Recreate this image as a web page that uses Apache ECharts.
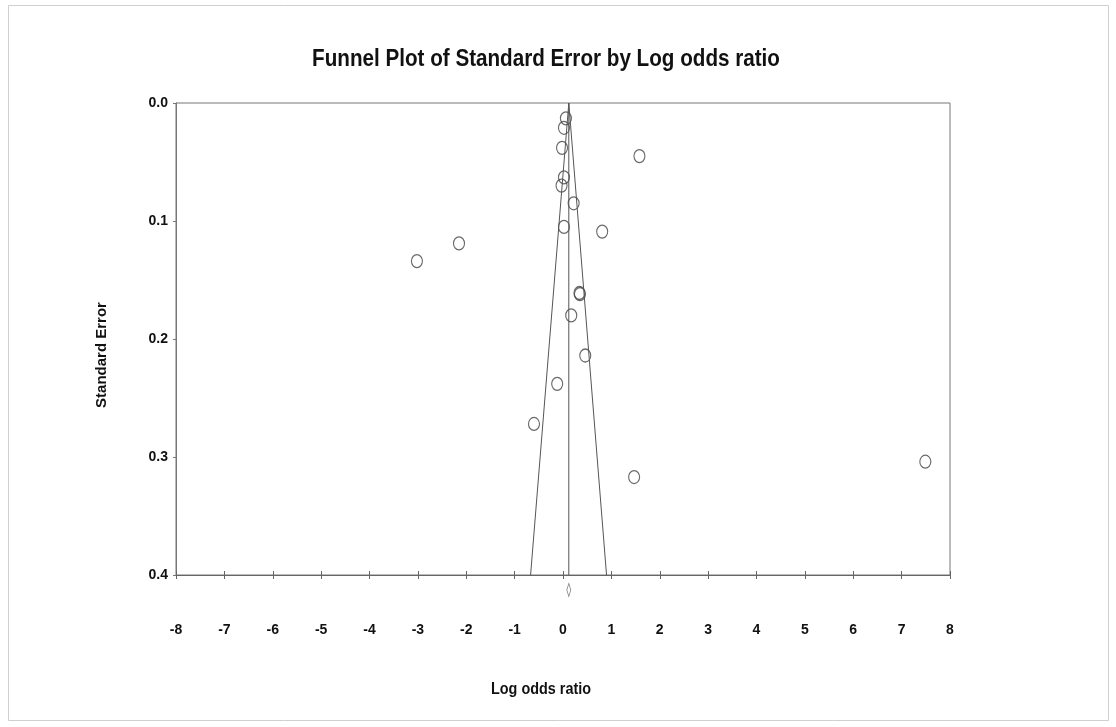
<!DOCTYPE html>
<html>
<head>
<meta charset="utf-8">
<script src="https://cdn.jsdelivr.net/npm/echarts@6/dist/echarts.min.js"></script>
<style>
html,body{margin:0;padding:0;background:#fff;}
#chart{width:1116px;height:727px;}
</style>
</head>
<body>
<div id="chart"></div>
<script>
// ---- data ----
const logOddsRatio = [0.06, 0.02, -0.02, 1.58, 0.02, -0.03, 0.22, 0.02, 0.81, 0.34, 0.35, 0.17, 0.46, -0.12, -0.60, 1.47, -2.15, -3.02, 7.49];
const standardError = [0.013, 0.021, 0.038, 0.045, 0.063, 0.070, 0.085, 0.105, 0.109, 0.161, 0.162, 0.180, 0.214, 0.238, 0.272, 0.317, 0.119, 0.134, 0.304];
const meanEffect = 0.12;
const funnelBottomLeft = -0.67;
const funnelBottomRight = 0.90;
const seMax = 0.4;
const xTicks = [-8, -7, -6, -5, -4, -3, -2, -1, 0, 1, 2, 3, 4, 5, 6, 7, 8];
const yTicks = [0.0, 0.1, 0.2, 0.3, 0.4];

const FONT = "'Liberation Sans', Arial, sans-serif";
const studies = logOddsRatio.map((v, i) => [v, standardError[i]]);
const GRID = {left: 176, top: 103, right: 166, bottom: 152};

const chart = echarts.init(document.getElementById('chart'), null, {renderer: 'canvas'});
chart.setOption({
  animation: false,
  backgroundColor: '#fff',
  graphic: [
    {type: 'rect', shape: {x: 8.5, y: 5.5, width: 1100, height: 715}, style: {fill: 'none', stroke: '#d0d0d0', lineWidth: 1}, silent: true},
    {type: 'text', x: 546, y: 59, scaleX: 0.86, style: {text: 'Funnel Plot of Standard Error by Log odds ratio', font: 'bold 24px ' + FONT, fill: '#111', textAlign: 'center', textVerticalAlign: 'middle'}},
    {type: 'text', x: 541, y: 690, scaleX: 0.9, style: {text: 'Log odds ratio', font: 'bold 16px ' + FONT, fill: '#111', textAlign: 'center', textVerticalAlign: 'middle'}},
    {type: 'text', x: 102, y: 355, rotation: Math.PI / 2, style: {text: 'Standard Error', font: 'bold 15px ' + FONT, fill: '#111', textAlign: 'center', textVerticalAlign: 'middle'}}
  ],
  grid: [
    Object.assign({show: true, borderColor: '#777', borderWidth: 1, backgroundColor: 'transparent'}, GRID),
    Object.assign({show: false}, GRID)
  ],
  xAxis: [{
    type: 'value', gridIndex: 0, min: xTicks[0], max: xTicks[xTicks.length - 1], interval: 1,
    axisLine: {show: true, onZero: false, lineStyle: {color: '#666', width: 1}},
    axisTick: {show: true, length: 4, lineStyle: {color: '#666'}},
    splitLine: {show: false},
    axisLabel: {margin: 48, fontFamily: FONT, fontWeight: 'bold', fontSize: 14, color: '#111'}
  }, {
    type: 'value', gridIndex: 1, position: 'bottom', min: xTicks[0], max: xTicks[xTicks.length - 1], interval: 1,
    axisLine: {show: false, onZero: false},
    axisTick: {show: true, inside: true, length: 4, lineStyle: {color: '#666'}},
    splitLine: {show: false}, axisLabel: {show: false}
  }],
  yAxis: [{
    type: 'value', gridIndex: 0, inverse: true, min: yTicks[0], max: yTicks[yTicks.length - 1], interval: 0.1,
    axisLine: {show: true, onZero: false, lineStyle: {color: '#777'}},
    axisTick: {show: true, length: 3, lineStyle: {color: '#777'}},
    splitLine: {show: false},
    axisLabel: {margin: 8, fontFamily: FONT, fontWeight: 'bold', fontSize: 14, color: '#111',
      formatter: v => v.toFixed(1)}
  }, {
    type: 'value', gridIndex: 1, inverse: true, min: yTicks[0], max: yTicks[yTicks.length - 1], show: false
  }],
  series: [
    {type: 'line', data: [[meanEffect, 0], [meanEffect, seMax]], symbol: 'none', lineStyle: {color: '#555', width: 1}, silent: true},
    {type: 'line', data: [[funnelBottomLeft, seMax], [meanEffect, 0], [funnelBottomRight, seMax]], symbol: 'none', lineStyle: {color: '#555', width: 1}, silent: true},
    {type: 'scatter', data: studies, symbol: 'circle', symbolSize: [11, 13],
      itemStyle: {color: 'rgba(255,255,255,0)', borderColor: '#444', borderWidth: 1.2}},
    {type: 'scatter', data: [[meanEffect, seMax]], symbol: 'diamond', symbolSize: [4, 13], symbolOffset: [0, 15], clip: false,
      itemStyle: {color: '#fff', borderColor: '#666', borderWidth: 1}}
  ]
});
</script>
</body>
</html>
